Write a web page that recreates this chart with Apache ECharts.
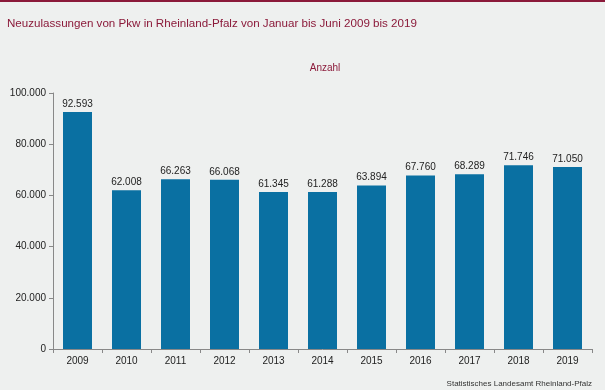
<!DOCTYPE html>
<html><head><meta charset="utf-8">
<script src="https://cdn.jsdelivr.net/npm/echarts@6/dist/echarts.min.js"></script>
<style>html,body{margin:0;padding:0;background:#eef0ef;}#c{width:605px;height:390px;}</style>
</head><body><div id="c"></div>
<script>
var categories = ['2009','2010','2011','2012','2013','2014','2015','2016','2017','2018','2019'];
var values = [92593, 62008, 66263, 66068, 61345, 61288, 63894, 67760, 68289, 71746, 71050];
var yTicks = [0, 20000, 40000, 60000, 80000, 100000];

function fmt(v){ return String(v).replace(/\B(?=(\d{3})+(?!\d))/g, '.'); }

var chart = echarts.init(document.getElementById('c'));
chart.setOption({
  backgroundColor: '#eef0ef',
  animation: false,
  graphic: [
    {type:'rect', shape:{x:0,y:0,width:605,height:2}, style:{fill:'#8b1a3a'}}
  ],
  title: [
    {text:'Neuzulassungen von Pkw in Rheinland-Pfalz von Januar bis Juni 2009 bis 2019', left:2, top:13,
     textStyle:{fontFamily:'Liberation Sans', fontSize:11.6, fontWeight:'normal', color:'#8b1a3a'}},
    {text:'Anzahl', left:320, top:58, textAlign:'center',
     textStyle:{fontFamily:'Liberation Sans', fontSize:10, fontWeight:'normal', color:'#8b1a3a'}},
    {text:'Statistisches Landesamt Rheinland-Pfalz', right:8, top:375,
     textStyle:{fontFamily:'Liberation Sans', fontSize:8, fontWeight:'normal', color:'#333'}}
  ],
  grid: {left:53, right:13, top:93, bottom:41},
  xAxis: {
    type:'category', data:categories,
    axisLine:{lineStyle:{color:'#888'}},
    axisTick:{show:true, length:4, lineStyle:{color:'#888'}},
    axisLabel:{fontFamily:'Liberation Sans', fontSize:10, color:'#222', margin:7}
  },
  yAxis: {
    type:'value', min:0, max:100000, interval:20000,
    axisLine:{show:true, lineStyle:{color:'#888'}},
    axisTick:{show:true, length:4, lineStyle:{color:'#888'}},
    splitLine:{show:false},
    axisLabel:{fontFamily:'Liberation Sans', fontSize:10, color:'#222', margin:7,
      formatter:function(v){ return yTicks.indexOf(v)>=0 ? fmt(v) : ''; }}
  },
  series: [{
    type:'bar', data:values, barWidth:29,
    itemStyle:{color:'#0a70a2'},
    label:{show:true, position:'top', distance:3, fontFamily:'Liberation Sans', fontSize:10, color:'#222',
      formatter:function(p){ return fmt(p.value); }}
  }]
});
</script></body></html>
